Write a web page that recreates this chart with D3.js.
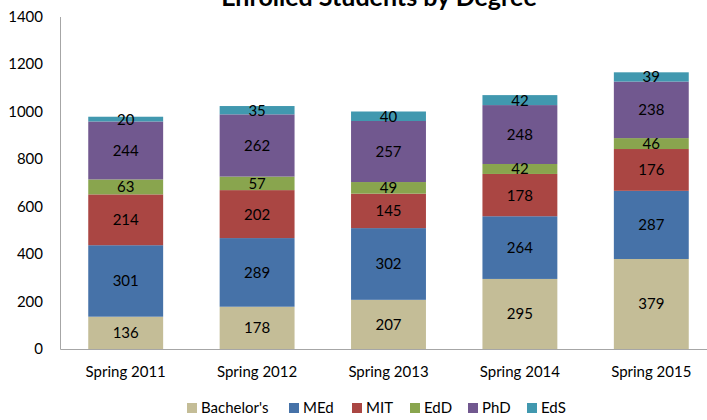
<!DOCTYPE html>
<html><head><meta charset="utf-8">
<script src="https://cdn.jsdelivr.net/npm/d3@7"></script>
<style>body{margin:0;background:#fff;} svg{display:block;} text{font-family:Lato,"Open Sans",sans-serif;}</style>
</head><body>
<svg id="chart" width="707" height="420"></svg>
<script>
const categories = ["Spring 2011","Spring 2012","Spring 2013","Spring 2014","Spring 2015"];
const seriesNames = ["Bachelor's","MEd","MIT","EdD","PhD","EdS"];
const bachelors = [136,178,207,295,379];
const med = [301,289,302,264,287];
const mit = [214,202,145,178,176];
const edd = [63,57,49,42,46];
const phd = [244,262,257,248,238];
const eds = [20,35,40,42,39];
const yTicks = [0,200,400,600,800,1000,1200,1400];
const colors = ["#C4BD97","#4672A8","#AA4643","#89A54E","#71588F","#4198AF"];

const seriesValues = [bachelors, med, mit, edd, phd, eds];
const rows = categories.map((c,i)=>{
  const r = {cat:c};
  seriesNames.forEach((s,j)=>r[s]=seriesValues[j][i]);
  return r;
});
const stack = d3.stack().keys(seriesNames)(rows);

const svg = d3.select("#chart");
const x = d3.scaleBand().domain(categories).range([60,717]).paddingInner(0.43).paddingOuter(0.215);
const y = d3.scaleLinear().domain([0,1400]).range([349,16.5]);
const FS = 15;

svg.append("text").attr("x",379).attr("y",6).attr("text-anchor","middle")
  .attr("font-size",25).attr("font-weight","bold").attr("fill","#000").text("Enrolled Students by Degree");

const g = svg.append("g");
stack.forEach((layer,j)=>{
  g.selectAll(null).data(layer).enter().append("rect")
    .attr("x",d=>x(d.data.cat)).attr("width",x.bandwidth())
    .attr("y",d=>y(d[1])).attr("height",d=>y(d[0])-y(d[1]))
    .attr("fill",colors[j]);
});
stack.forEach((layer,j)=>{
  g.selectAll(null).data(layer).enter().append("text")
    .attr("x",d=>x(d.data.cat)+x.bandwidth()/2)
    .attr("y",d=>(y(d[0])+y(d[1]))/2)
    .attr("dy","0.36em").attr("text-anchor","middle").attr("font-size",FS).attr("fill","#000")
    .text(d=>d[1]-d[0]);
});

// axes
const yAxis = d3.axisLeft(y).tickValues(yTicks).tickFormat(d3.format("d")).tickSize(0).tickPadding(17);
const ya = svg.append("g").attr("transform","translate(60,0)").call(yAxis);
ya.select(".domain").attr("stroke","#A6A6A6");
ya.selectAll("text").attr("font-size",FS).attr("fill","#000").attr("font-family","Lato,'Open Sans',sans-serif");

const xAxis = d3.axisBottom(x).tickSize(0).tickPadding(17);
const xa = svg.append("g").attr("transform","translate(0,349)").call(xAxis);
xa.select(".domain").attr("stroke","#A6A6A6");
xa.selectAll("text").attr("font-size",FS).attr("fill","#000").attr("font-family","Lato,'Open Sans',sans-serif");

// legend
const legendX = [187,289,352,410,468,527];
const lg = svg.append("g");
seriesNames.forEach((s,j)=>{
  lg.append("rect").attr("x",legendX[j]).attr("y",403).attr("width",10).attr("height",10).attr("fill",colors[j]);
  lg.append("text").attr("x",legendX[j]+14).attr("y",408).attr("dy","0.36em").attr("font-size",FS).attr("fill","#000").text(s);
});
</script>
</body></html>
